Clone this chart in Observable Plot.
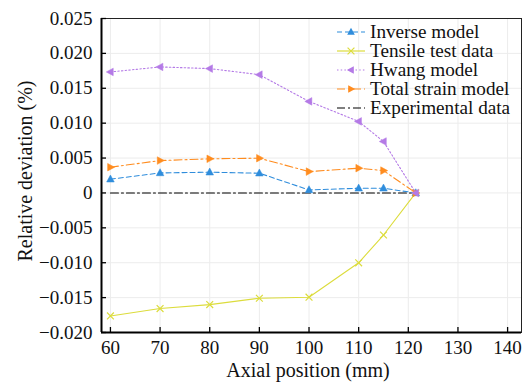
<!DOCTYPE html>
<html><head><meta charset="utf-8">
<script src="https://cdn.jsdelivr.net/npm/d3@7"></script>
<script src="https://cdn.jsdelivr.net/npm/@observablehq/plot@0.6"></script>
<style>
body{margin:0;background:#fff}
#wrap{position:relative;width:525px;height:382px;font-family:"Liberation Serif",Tinos,"Times New Roman",Times,"DejaVu Serif",serif;color:#111}
#wrap svg text{font-family:"Liberation Serif",Tinos,"Times New Roman",Times,"DejaVu Serif",serif}
.title{position:absolute;font-size:20px;line-height:22px;white-space:nowrap}
#legend{position:absolute;left:336px;top:22px;font-size:19.2px;line-height:19px}
#legend .row{display:flex;align-items:center;height:19px}
#legend svg{margin-right:4px}
</style>
</head><body><div id="wrap"></div>
<script>
const positions = [60, 70, 80, 90, 100, 110, 115, 121.5];
const inverseModel = [0.00197, 0.00287, 0.00297, 0.00283, 0.00043, 0.00067, 0.00067, 0];
const tensileTest = [-0.01763, -0.01657, -0.0160, -0.01509, -0.01494, -0.01001, -0.00603, 0];
const hwangModel = [0.01734, 0.01806, 0.01782, 0.01695, 0.01312, 0.01025, 0.00737, 0];
const totalStrain = [0.00369, 0.00464, 0.00489, 0.00498, 0.00306, 0.00355, 0.0032, 0];
const experimental = [0, 0, 0, 0, 0, 0, 0, 0];
const seriesNames = ["Inverse model", "Tensile test data", "Hwang model", "Total strain model", "Experimental data"];
const xTicks = [60, 70, 80, 90, 100, 110, 120, 130, 140];
const yTicks = [-0.020, -0.015, -0.010, -0.005, 0, 0.005, 0.010, 0.015, 0.020, 0.025];
const xTitle = "Axial position (mm)";
const yTitle = "Relative deviation (%)";

const sym = (pts) => ({draw(ctx, size){ const r = Math.sqrt(size / Math.PI); ctx.moveTo(pts[0][0]*r, pts[0][1]*r); for (const p of pts.slice(1)) ctx.lineTo(p[0]*r, p[1]*r); ctx.closePath(); }});
const triUp = sym([[0,-1.05],[0.95,0.7],[-0.95,0.7]]);
const triLeft = sym([[-1.05,0],[0.7,-0.95],[0.7,0.95]]);
const triRight = sym([[1.05,0],[-0.7,-0.95],[-0.7,0.95]]);

const series = [
  {name: seriesNames[4], values: experimental, color: "#000000", dash: "8,3,2,3", symbol: null},
  {name: seriesNames[1], values: tensileTest, color: "#dcdc3c", dash: null, symbol: "times"},
  {name: seriesNames[0], values: inverseModel, color: "#2f8ddc", dash: "5,3", symbol: triUp},
  {name: seriesNames[3], values: totalStrain, color: "#ff8c1f", dash: "8,3,2,3", symbol: triRight},
  {name: seriesNames[2], values: hwangModel, color: "#b47ae6", dash: "1.5,2.2", symbol: triLeft}
];

const serif = "'Liberation Serif', Tinos, 'Times New Roman', Times, 'DejaVu Serif', serif";
const marks = [
  Plot.gridX(xTicks, {stroke: "#ececec", strokeOpacity: 1}),
  Plot.gridY(yTicks, {stroke: "#ececec", strokeOpacity: 1}),
];
for (const s of series) {
  const data = positions.map((x, i) => ({x, y: s.values[i]}));
  marks.push(Plot.line(data, {x: "x", y: "y", stroke: s.color, strokeWidth: 1.1, strokeDasharray: s.dash || undefined}));
  if (s.symbol) {
    if (s.symbol === "times") marks.push(Plot.dot(data, {x: "x", y: "y", symbol: "times", r: 3.2, stroke: s.color, strokeWidth: 1.2}));
    else marks.push(Plot.dot(data, {x: "x", y: "y", symbol: s.symbol, r: 4, fill: s.color, stroke: s.color, strokeWidth: 0.5}));
  }
}
marks.push(
  Plot.frame({stroke: "#222", strokeWidth: 1}),
  Plot.ruleX([58.2], {stroke: "#000", strokeWidth: 2}),
  Plot.ruleY([-0.02], {stroke: "#000", strokeWidth: 2}),
  Plot.axisX(xTicks, {tickSize: -5, tickPadding: 13, fontSize: 19, fontFamily: serif, label: null, stroke: "#000", strokeWidth: 1.3, color: "#111"}),
  Plot.axisY(yTicks, {tickSize: -5, tickPadding: 14, fontSize: 19, fontFamily: serif, label: null, stroke: "#000", strokeWidth: 1.3, color: "#111",
    tickFormat: d => d === 0 ? "0" : d3.format(".3f")(d)})
);

const chart = Plot.plot({
  width: 525, height: 382,
  marginLeft: 101, marginRight: 4, marginTop: 18, marginBottom: 50,
  x: {domain: [58.2, 142.8]},
  y: {domain: [-0.02, 0.025]},
  style: {fontFamily: serif, fontSize: "19px", background: "#fff", color: "#111"},
  marks
});
const wrap = document.getElementById("wrap");
wrap.appendChild(chart);

const xt = document.createElement("div");
xt.className = "title"; xt.textContent = xTitle;
xt.style.left = "308px"; xt.style.top = "370px"; xt.style.transform = "translate(-50%,-50%)";
wrap.appendChild(xt);
const yt = document.createElement("div");
yt.className = "title"; yt.textContent = yTitle;
yt.style.left = "25px"; yt.style.top = "171px"; yt.style.transform = "translate(-50%,-50%) rotate(-90deg)";
wrap.appendChild(yt);

// legend
const legendOrder = [2, 1, 4, 3, 0];
const legend = document.createElement("div");
legend.id = "legend";
for (const idx of legendOrder) {
  const s = series[idx];
  const row = document.createElement("div"); row.className = "row";
  const ns = "http://www.w3.org/2000/svg";
  const svg = document.createElementNS(ns, "svg");
  svg.setAttribute("width", 30); svg.setAttribute("height", 12);
  const line = document.createElementNS(ns, "line");
  line.setAttribute("x1", 1); line.setAttribute("x2", 29); line.setAttribute("y1", 6); line.setAttribute("y2", 6);
  line.setAttribute("stroke", s.color); line.setAttribute("stroke-width", 1.2);
  if (s.dash) line.setAttribute("stroke-dasharray", s.dash);
  svg.appendChild(line);
  if (s.symbol) {
    const p = document.createElementNS(ns, "path");
    p.setAttribute("transform", "translate(15,6)");
    if (s.symbol === "times") { p.setAttribute("d", d3.symbol(d3.symbolTimes, 3.2*3.2*Math.PI)()); p.setAttribute("stroke", s.color); p.setAttribute("stroke-width", 1.2); p.setAttribute("fill", "none"); }
    else { p.setAttribute("d", d3.symbol(s.symbol, 16*Math.PI)()); p.setAttribute("fill", s.color); }
    svg.appendChild(p);
  }
  row.appendChild(svg);
  const t = document.createElement("span"); t.textContent = s.name;
  row.appendChild(t);
  legend.appendChild(row);
}
wrap.appendChild(legend);
</script>
</body></html>
